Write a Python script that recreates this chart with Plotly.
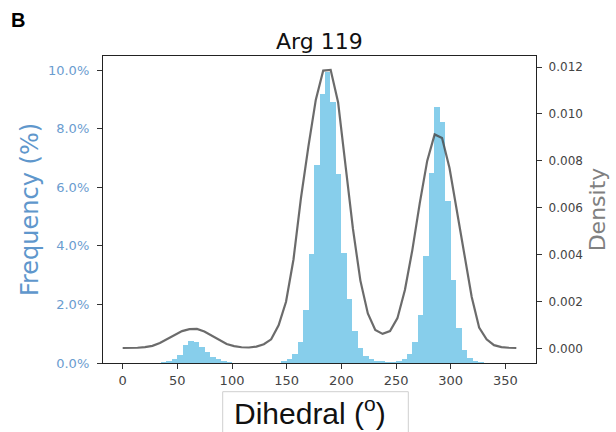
import plotly.graph_objects as go

# Histogram: 5-degree bins (left edges) and frequency in percent
bin_width = 5
bin_left = [35, 40, 45, 50, 55, 60, 65, 70, 75, 80, 85, 90, 95,
            145, 150, 155, 160, 165, 170, 175, 180, 185, 190, 195, 200, 205, 210, 215, 220, 225, 230, 235, 240,
            245, 250, 255, 260, 265, 270, 275, 280, 285, 290, 295, 300, 305, 310, 315, 320, 325]
freq_pct = [0.02, 0.06, 0.13, 0.29, 0.60, 0.74, 0.72, 0.55, 0.36, 0.20, 0.13, 0.07, 0.03,
            0.05, 0.13, 0.32, 0.73, 1.80, 3.72, 6.75, 9.18, 9.93, 8.92, 6.46, 3.77, 2.20, 1.10, 0.50, 0.24, 0.13, 0.07, 0.04, 0.03,
            0.03, 0.06, 0.13, 0.30, 0.73, 1.63, 3.66, 6.48, 8.73, 8.23, 5.53, 2.84, 1.21, 0.43, 0.16, 0.05, 0.03]

# Density curve (KDE evaluated on a grid)
dens_x = [0.0, 6.8, 13.6, 20.4, 27.2, 34.0, 40.8, 47.5, 54.3, 61.1, 67.9, 74.7, 81.5, 88.3,
          95.1, 101.9, 108.7, 115.5, 122.3, 129.1, 135.8, 142.6, 149.4, 156.2, 163.0, 169.8,
          176.6, 183.4, 190.2, 197.0, 203.8, 210.6, 217.4, 224.2, 231.0, 237.7, 244.5, 251.3,
          258.1, 264.9, 271.7, 278.5, 285.3, 292.1, 298.9, 305.7, 312.5, 319.2, 326.0, 332.8,
          339.6, 346.4, 353.2, 360.0]
dens_y = [0.00003, 0.00003, 0.00004, 0.00007, 0.00012, 0.00024, 0.00042, 0.00060, 0.00075, 0.00083,
          0.00084, 0.00073, 0.00056, 0.00036, 0.00020, 0.00011, 0.00006, 0.00005, 0.00009, 0.00019,
          0.00040, 0.00100, 0.00200, 0.00380, 0.00640, 0.00860, 0.01060, 0.01185, 0.01188, 0.01050,
          0.00790, 0.00510, 0.00290, 0.00150, 0.00080, 0.00063, 0.00075, 0.00130, 0.00250, 0.00420,
          0.00620, 0.00800, 0.00913, 0.00898, 0.00770, 0.00590, 0.00410, 0.00220, 0.00090, 0.00040,
          0.00015, 0.00007, 0.00004, 0.00003]

x_ticks = [0, 50, 100, 150, 200, 250, 300, 350]
left_ticks = [0, 2, 4, 6, 8, 10]
right_ticks = [0.0, 0.002, 0.004, 0.006, 0.008, 0.010, 0.012]

bin_centers = [e + bin_width / 2 for e in bin_left]

fig = go.Figure()
fig.add_trace(go.Bar(x=bin_centers, y=freq_pct, width=bin_width,
                     marker=dict(color="#87CEEB", line=dict(width=0)),
                     yaxis="y", showlegend=False, hoverinfo="skip"))
fig.add_trace(go.Scatter(x=dens_x, y=dens_y, mode="lines",
                         line=dict(color="rgba(70,70,70,0.8)", width=2.2),
                         yaxis="y2", showlegend=False, hoverinfo="skip"))

font_main = "DejaVu Sans"
fig.update_layout(
    width=616, height=432,
    margin=dict(l=103, r=80, t=56, b=69),
    paper_bgcolor="white", plot_bgcolor="white",
    font=dict(family=font_main, size=12, color="#333"),
    bargap=0,
    title=dict(text="Arg 119", x=0.5185, xanchor="center", y=0.905, yanchor="middle",
               font=dict(family=font_main, size=22, color="#111")),
    xaxis=dict(range=[-18, 378], tickvals=x_ticks, ticks="outside", ticklen=5,
               tickcolor="#333", showline=True, linecolor="#222", linewidth=1.3, mirror=True,
               showgrid=False, zeroline=False, tickfont=dict(size=13, color="#444")),
    yaxis=dict(range=[0, 10.48], tickvals=left_ticks,
               ticktext=[f"{v:.1f}%" for v in left_ticks], ticks="outside", ticklen=5,
               ticklabelstandoff=5,
               tickcolor="#333", showline=True, linecolor="#222", linewidth=1.3,
               showgrid=False, zeroline=False,
               tickfont=dict(size=13, color="#6a9ccf"),
               title=dict(text="Frequency (%)", standoff=2,
                          font=dict(size=24, color="#5f97cc"))),
    yaxis2=dict(range=[-0.00061, 0.01247], tickvals=right_ticks,
                ticktext=[f"{v:.3f}" for v in right_ticks], overlaying="y", side="right",
                ticks="outside", ticklen=5, ticklabelstandoff=4, tickcolor="#333", showline=True,
                linecolor="#222", linewidth=1.3, showgrid=False, zeroline=False,
                tickfont=dict(size=12, color="#444"),
                title=dict(text="Density", standoff=7, font=dict(size=22, color="#808080"))),
    shapes=[dict(type="rect", xref="paper", yref="paper",
                 x0=(222.7 - 103) / 433, x1=(408.3 - 103) / 433,
                 y0=-0.3, y1=-(391.7 - 363) / 307,
                 line=dict(color="#cfcfcf", width=1), fillcolor="rgba(0,0,0,0)")],
    annotations=[
        dict(text="Dihedral (<sup>o</sup>)", xref="paper", yref="paper",
             x=(310 - 103) / 433, y=-(411 - 363) / 307, xanchor="center", yanchor="middle",
             showarrow=False, font=dict(family="Liberation Sans", size=30, color="#111")),
        dict(text="<b>B</b>", xref="paper", yref="paper",
             x=(9 - 103) / 433, y=(363 - 20) / 307, xanchor="left", yanchor="middle",
             showarrow=False, font=dict(family="Liberation Sans", size=20, color="#000")),
    ],
)

fig.write_html("out.html")
